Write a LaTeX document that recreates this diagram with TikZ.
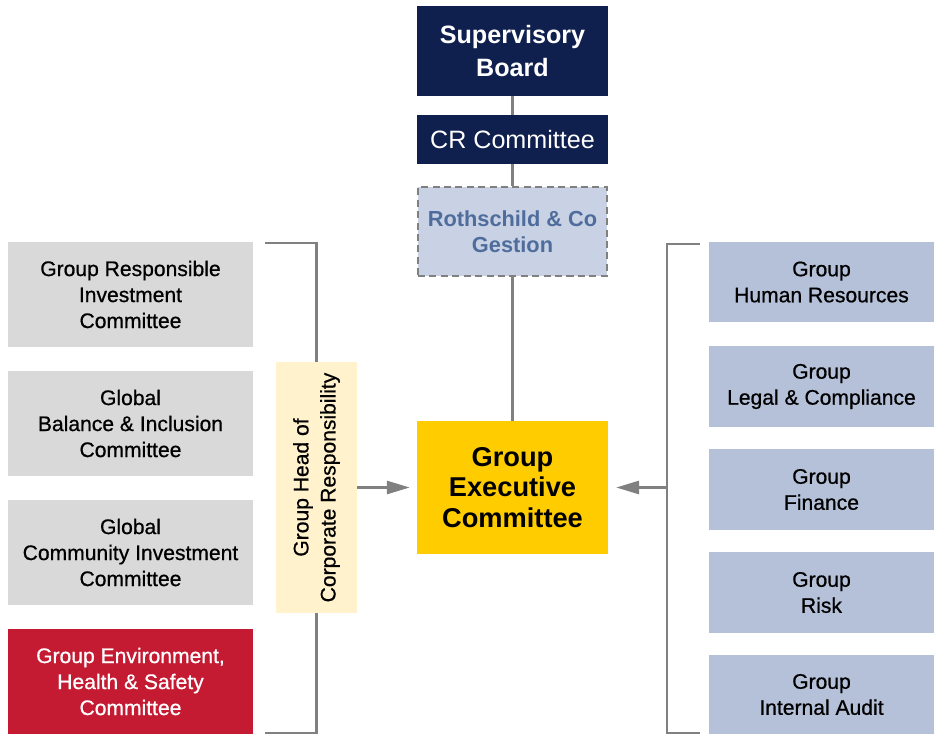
\documentclass[tikz,border=0pt]{standalone}
\usepackage{fontspec}
\setmainfont{Liberation Sans}
\newfontfamily\medfont{Liberation Sans}[FakeBold=0.7]
\usepackage{tikz}
\usetikzlibrary{positioning, arrows, arrows.meta}

\definecolor{boardblue}{HTML}{0F1F4E}
\definecolor{gestfill}{HTML}{C9D2E4}
\definecolor{gesttext}{HTML}{4F6D9C}
\definecolor{gecyellow}{HTML}{FFCC00}
\definecolor{cmtgray}{HTML}{D9D9D9}
\definecolor{ehsred}{HTML}{C41A32}
\definecolor{fnblue}{HTML}{B5C1D9}
\definecolor{hcrcream}{HTML}{FFF2CC}
\definecolor{linegray}{HTML}{808080}

\begin{document}
\begin{tikzpicture}[x=0.02cm,y=-0.02cm,
  box/.style={inner sep=0pt,align=center,font=\medfont\fontsize{12}{14.8}\selectfont},
  board/.style={box,fill=boardblue,text=white,minimum width=3.82cm},
  cmt/.style={box,fill=cmtgray,minimum width=4.9cm,minimum height=2.1cm},
  fn/.style={box,fill=fnblue,minimum width=4.5cm,minimum height=1.62cm},
  link/.style={linegray,line width=1.3pt},
  arr/.style={link,-{Triangle[length=13pt,width=7.5pt]}}]
\useasboundingbox (0,0) rectangle (934,734);

% brackets behind the boxes
\coordinate (lt) at (265,243);
\coordinate (lb) at (265,733);
\coordinate (rt) at (700,244);
\coordinate (rb) at (700,733);
\coordinate (rj) at (667,487.5);

% centre column
\node[board,minimum height=1.8cm,font=\bfseries\fontsize{14.3}{18.8}\selectfont] (sb) at (512.5,51) {Supervisory\\Board};
\node[board,minimum height=0.98cm,font=\fontsize{14.3}{17}\selectfont] (crc) at (512.5,139.5) {CR Committee};
\node[box,fill=gestfill,draw=linegray,dash pattern=on 4pt off 2.5pt,line width=1.2pt,
  minimum width=3.78cm,minimum height=1.78cm,text=gesttext,font=\bfseries\fontsize{12.4}{14.8}\selectfont] (rcg) at (512.5,231.5) {Rothschild \& Co\\Gestion};
\node[box,fill=gecyellow,minimum width=3.82cm,minimum height=2.66cm,font=\bfseries\fontsize{15.5}{17.4}\selectfont] (gec) at (512.5,487.5) {Group\\Executive\\Committee};

% left committees
\node[cmt] (gri) at (130.5,294.5) {Group Responsible\\Investment\\Committee};
\node[cmt] (gbi) at (130.5,423.5) {Global\\Balance \& Inclusion\\Committee};
\node[cmt] (gci) at (130.5,552.5) {Global\\Community Investment\\Committee};
\node[cmt,fill=ehsred,text=white] (ehs) at (130.5,681.5) {Group Environment,\\Health \& Safety\\Committee};

% group head of CR
\node[box,fill=hcrcream,rotate=90,minimum width=5.02cm,minimum height=1.62cm,
  font=\medfont\fontsize{12}{15.4}\selectfont] (hcr) at (316.5,487.5) {Group Head of\\Corporate Responsibility};

% right functions
\node[fn] (ghr) at (821.5,282) {Group\\Human Resources};
\node[fn] (glc) at (821.5,386.5) {Group\\Legal \& Compliance};
\node[fn] (gfi) at (821.5,489.5) {Group\\Finance};
\node[fn] (grk) at (821.5,592.5) {Group\\Risk};
\node[fn,minimum height=1.58cm] (gia) at (821.5,694.5) {Group\\Internal Audit};

% connectors
\draw[link] (sb) -- (crc);
\draw[link] (crc) -- (rcg);
\draw[link] (rcg) -- (gec);
\draw[link] (lt) -| (hcr);
\draw[link] (lb) -| (hcr);
\draw[arr,shorten >=4pt] (hcr) -- (gec);
\draw[link] (rt) -| (rb -| rj) -- (rb);
\draw[arr,shorten >=4.5pt] (rj) -- (gec);
\end{tikzpicture}
\end{document}
